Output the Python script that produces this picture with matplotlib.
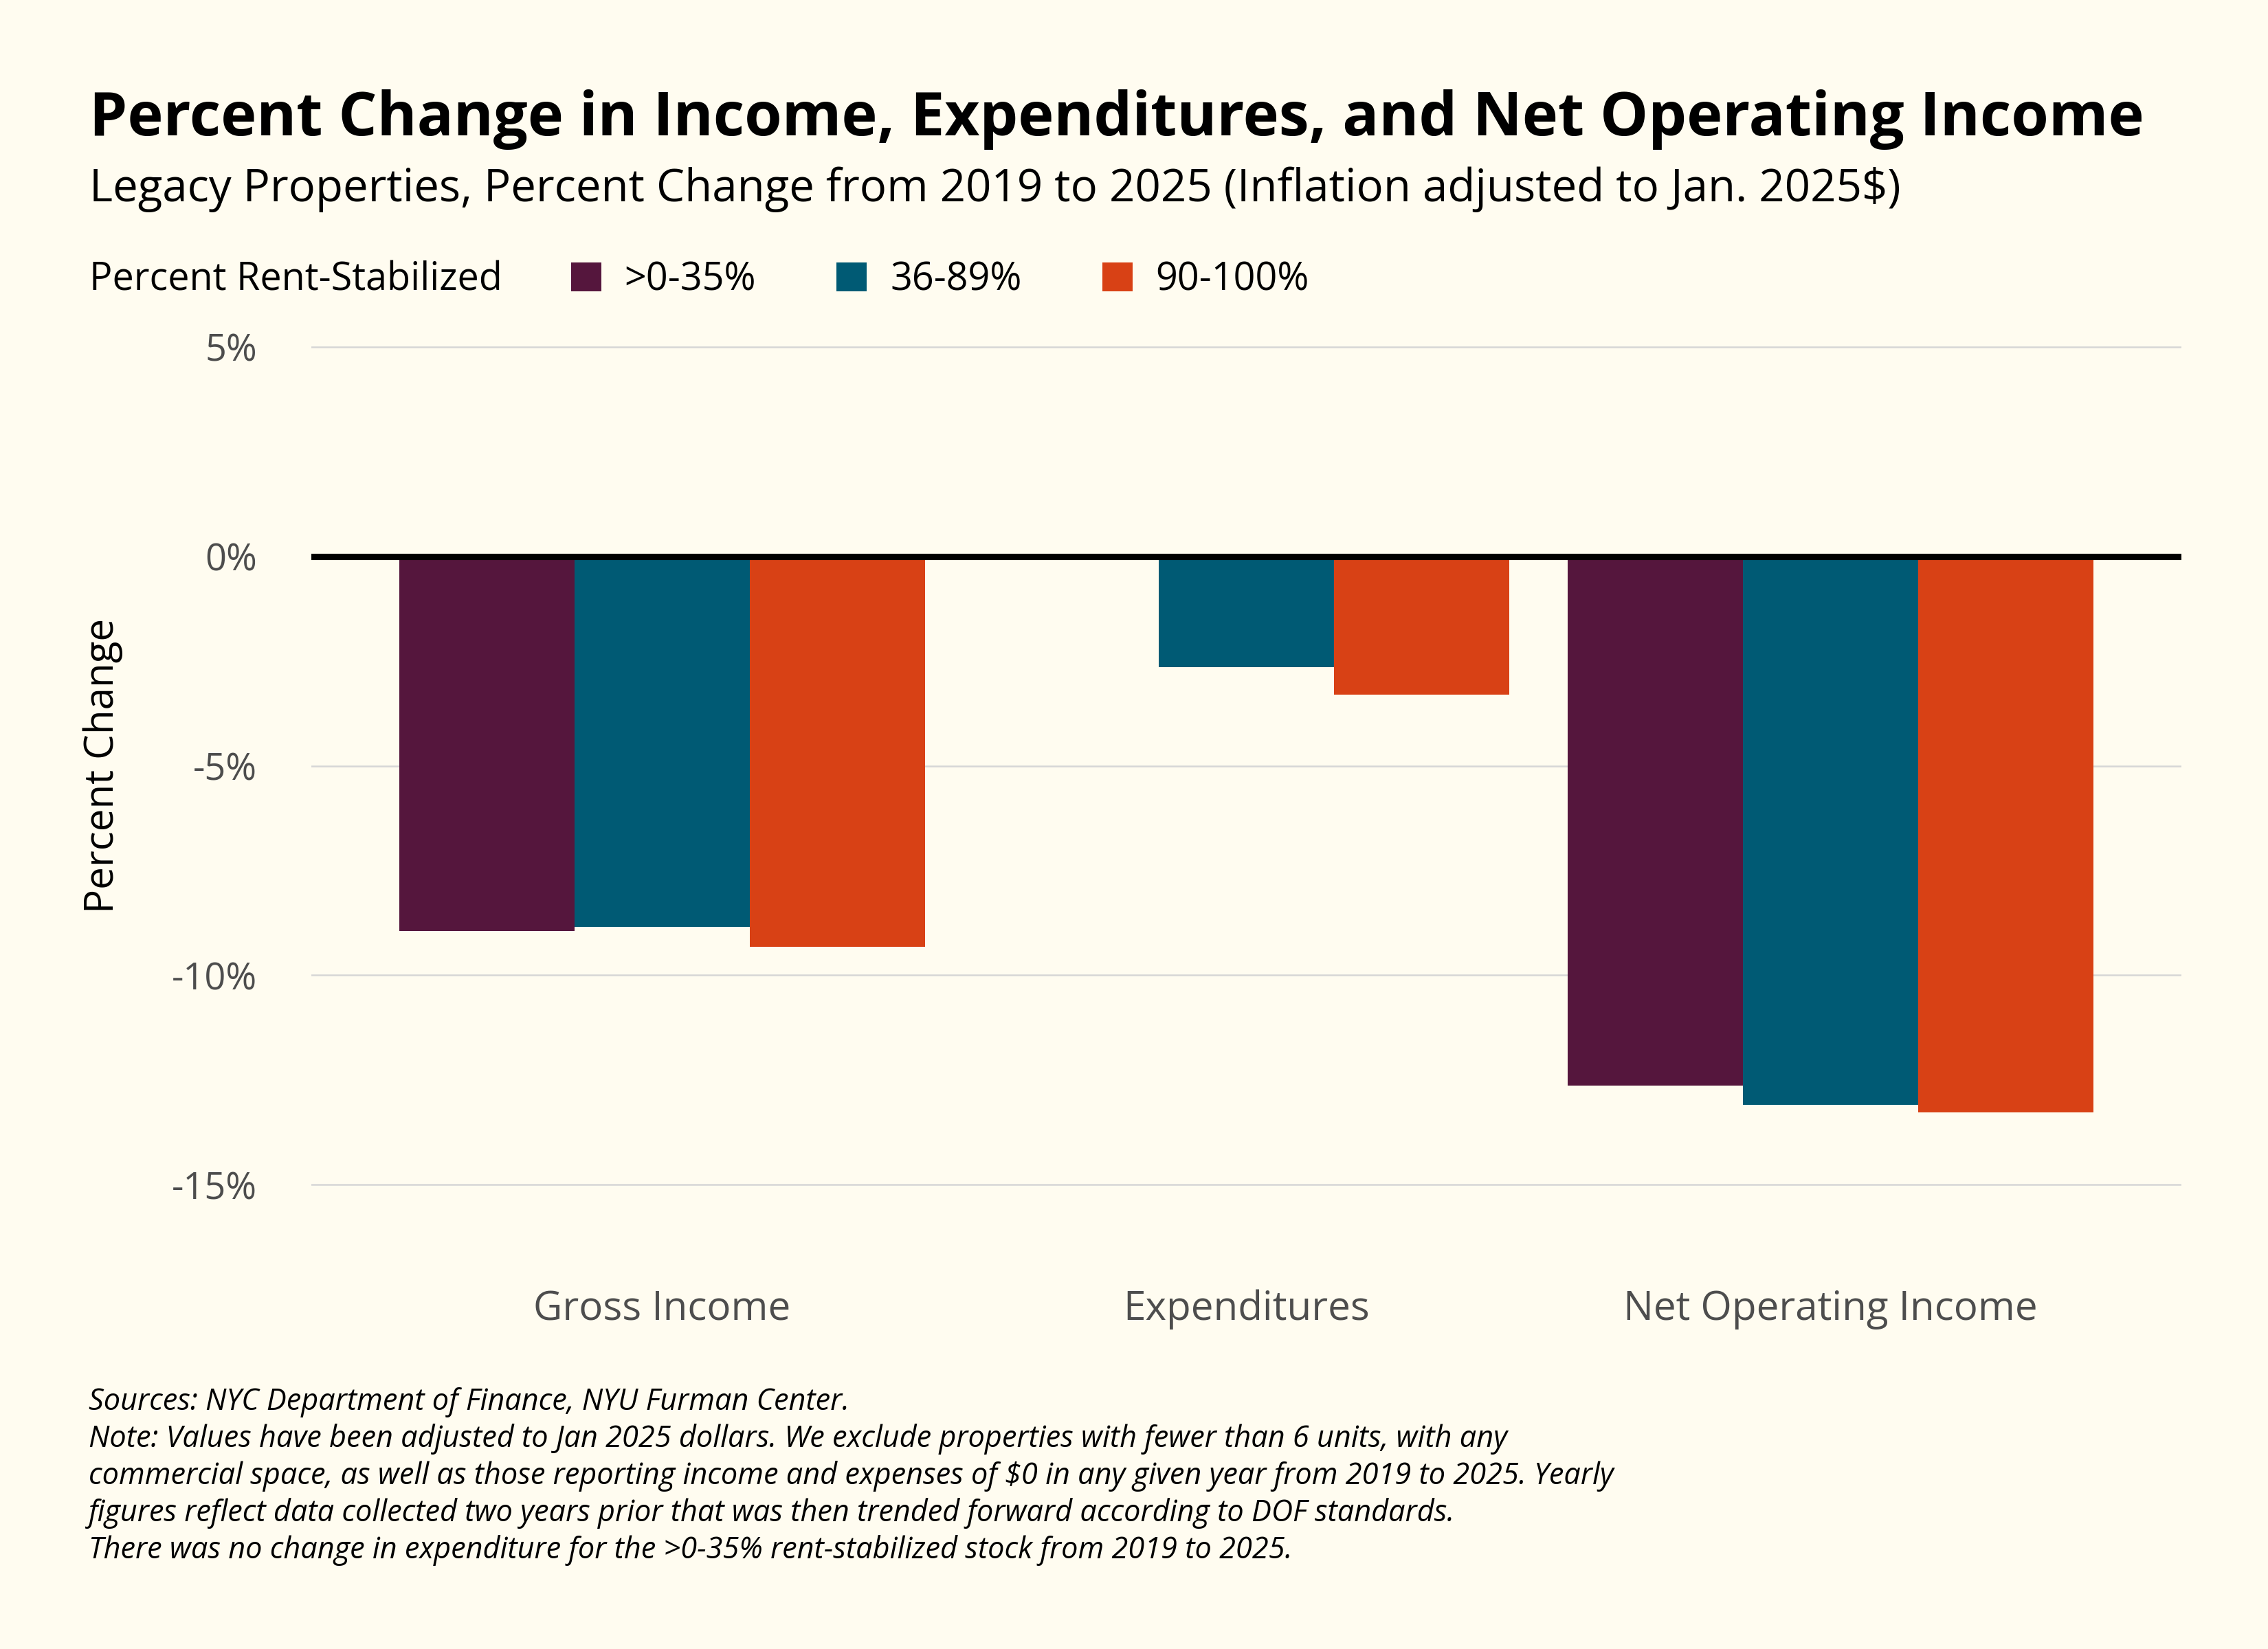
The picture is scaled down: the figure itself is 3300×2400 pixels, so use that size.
import matplotlib
matplotlib.use("Agg")
from matplotlib import pyplot as plt
import numpy as np

# data (percent change 2019 -> 2025)
categories = ["Gross Income", "Expenditures", "Net Operating Income"]
groups = [">0-35%", "36-89%", "90-100%"]
low_rs = [-8.95, 0.0, -12.63]
mid_rs = [-8.85, -2.65, -13.1]
high_rs = [-9.33, -3.3, -13.27]
colors = ["#55163D", "#005A74", "#D84115"]

bg = "#FFFCF0"
W, H = 3300, 2400
plt.rcParams["font.family"] = ["Open Sans", "DejaVu Sans"]

fig = plt.figure(figsize=(11, 8), dpi=300, facecolor=bg)

def fx(px):
    return px / W

def fy(py):
    return 1 - py / H

ax = fig.add_axes([fx(453), fy(1785), fx(3174) - fx(453), fy(444) - fy(1785)])
ax.set_facecolor(bg)

x = np.arange(len(categories))
width = 0.3
handles = []
for i, (vals, lab) in enumerate(zip([low_rs, mid_rs, high_rs], groups)):
    b = ax.bar(x + (i - 1) * width, vals, width, color=colors[i], label=lab, zorder=2)
    handles.append(b)

ax.set_xlim(-0.6, 2.6)
ax.set_ylim(-16, 6)
ax.set_yticks([5, 0, -5, -10, -15])
ax.set_yticklabels(["5%", "0%", "-5%", "-10%", "-15%"])
ax.set_xticks(x)
ax.set_xticklabels(categories)
ax.grid(axis="y", color="#D6D6D6", linewidth=0.6, zorder=0)
ax.axhline(0, color="black", linewidth=2.2, zorder=3)
ax.tick_params(axis="y", length=0, labelsize=13, labelcolor="#4D4D4D", pad=19)
ax.tick_params(axis="x", length=0, labelsize=14, labelcolor="#4D4D4D", pad=22)
for s in ax.spines.values():
    s.set_visible(False)
ax.set_ylabel("Percent Change", fontsize=14, color="black")
ax.yaxis.set_label_coords(-0.1007, 0.5)

fig.text(fx(130), fy(197), "Percent Change in Income, Expenditures, and Net Operating Income",
         fontsize=21.2, fontweight="bold", color="black", va="baseline")
fig.text(fx(130), fy(293), "Legacy Properties, Percent Change from 2019 to 2025 (Inflation adjusted to Jan. 2025$)",
         fontsize=15.7, color="black", va="baseline")
fig.text(fx(130), fy(408), "Percent Rent-Stabilized", fontsize=13.4, color="black", va="center")

fig.legend(handles=handles, labels=groups, loc="center left", bbox_to_anchor=(fx(831), fy(408)),
           ncol=3, frameon=False, fontsize=13.4, handlelength=0.79, handleheight=0.79,
           handletextpad=0.6, columnspacing=2.1, borderaxespad=0, borderpad=0)

notes = [
    "Sources: NYC Department of Finance, NYU Furman Center.",
    "Note: Values have been adjusted to Jan 2025 dollars. We exclude properties with fewer than 6 units, with any",
    "commercial space, as well as those reporting income and expenses of $0 in any given year from 2019 to 2025. Yearly",
    "figures reflect data collected two years prior that was then trended forward according to DOF standards.",
    "There was no change in expenditure for the >0-35% rent-stabilized stock from 2019 to 2025.",
]
for k, line in enumerate(notes):
    fig.text(fx(129), fy(2052 + 54 * k), line, fontsize=10.4, style="italic", color="black", va="baseline")

fig.savefig("out.png", dpi=300, facecolor=bg)
